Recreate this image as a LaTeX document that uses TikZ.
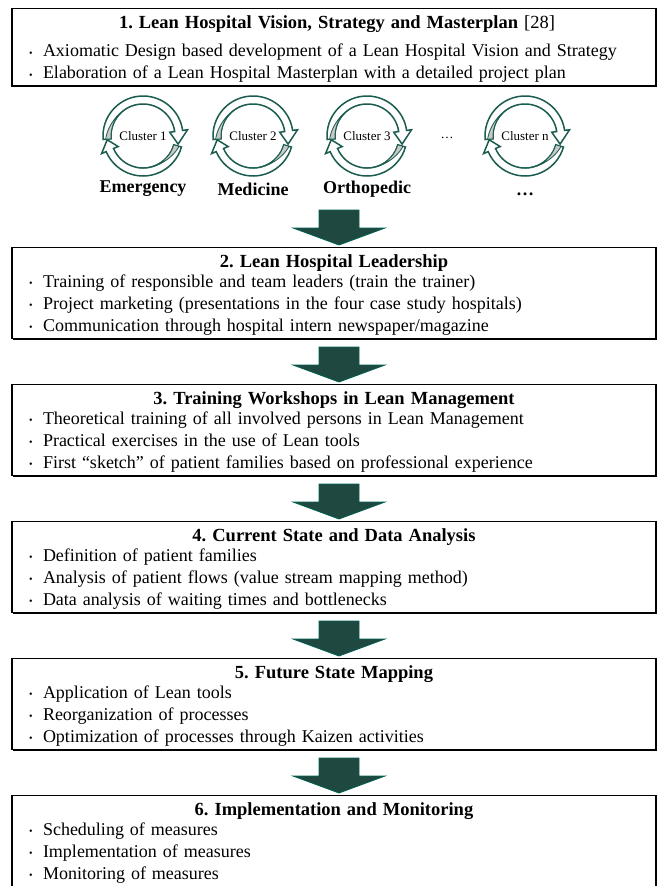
\documentclass[tikz,border=0pt]{standalone}
\usepackage{fontspec}
\setmainfont{Liberation Serif}
\usetikzlibrary{positioning, calc, shadows}

\definecolor{arrowfill}{RGB}{31,72,64}
\definecolor{arrowedge}{RGB}{0,96,80}
\definecolor{cycleedge}{RGB}{26,92,78}
\definecolor{cyclegray}{RGB}{200,200,200}

\newcommand{\phasetitle}[2][-3.3pt]{{\centering\fontsize{18.5}{23}\selectfont\bfseries\strut #2\par}\vspace{#1}}
\newcommand{\bitem}[1]{\par\makebox[23pt][l]{\hspace{9pt}\raisebox{0.5pt}{\fontsize{10}{10}\selectfont\textbullet}}#1\strut}

\tikzset{
  phase/.style={draw, fill=white, line width=1.3pt, rectangle, anchor=north,
    text width=628pt, inner xsep=8pt, inner ysep=3.5pt, align=left,
    execute at end node={\par\vspace{-3pt}},
    drop shadow={shadow xshift=0.8pt, shadow yshift=-1.2pt, fill=black, opacity=1}},
  cluster/.style={font=\fontsize{13}{13}\selectfont, inner sep=0pt},
  dept/.style={font=\fontsize{18}{18}\selectfont\bfseries, inner sep=0pt},
  pics/flowarrow/.style={code={
    \filldraw[fill=arrowfill, draw=arrowedge, line width=0.8pt]
      (0,0) -- (46,17) -- (20,17) -- (20,35) -- (-20,35) -- (-20,17) -- (-46,17) -- cycle;
  }},
  pics/cycle/.style={code={
    % lower arc, arrow pointing up on the left
    \filldraw[fill=white, draw=cycleedge, line width=1.5pt]
      (-16:40) arc[start angle=-16, end angle=-157, radius=40] -- (-157:45) -- (-174:36)
      -- (-157:27) -- (-157:32) arc[start angle=-157, end angle=-16, radius=32] -- cycle;
    \filldraw[fill=cyclegray, draw=cycleedge, line width=0.8pt]
      (-16:32) -- (-16:37.5) .. controls (-40:37.5) and (-75:36) .. (-100:32)
      arc[start angle=-100, end angle=-16, radius=32] -- cycle;
    % upper arc, arrow pointing down on the right
    \filldraw[fill=white, draw=cycleedge, line width=1.5pt]
      (185:40) arc[start angle=185, end angle=8, radius=40] -- (8:45) -- (-13:36)
      -- (8:27) -- (8:32) arc[start angle=8, end angle=185, radius=32] -- cycle;
    \filldraw[fill=cyclegray, draw=cycleedge, line width=0.8pt]
      (185:32) -- (185:37.5) .. controls (160:37.5) and (125:36) .. (100:32)
      arc[start angle=100, end angle=185, radius=32] -- cycle;
  }},
}

\begin{document}
\frenchspacing
\begin{tikzpicture}[x=1pt, y=1pt, font=\fontsize{18}{22}\selectfont]
  \useasboundingbox (0,0) rectangle (664,-886);

  \node[phase, execute at end node={}] (p1) at (334,-8) {\vspace{6.5pt}
    \phasetitle[-1.3pt]{1. Lean Hospital Vision, Strategy and Masterplan \textmd{[28]}}
    \bitem{Axiomatic Design based development of a Lean Hospital Vision and Strategy}
    \bitem{Elaboration of a Lean Hospital Masterplan with a detailed project plan}};

  % clusters
  \node[cluster] (c1) at (143,-136) {Cluster 1};
  \node[cluster, on grid, right=110pt of c1] (c2) {Cluster 2};
  \node[cluster, on grid, right=114pt of c2] (c3) {Cluster 3};
  \node[cluster, on grid, right=158pt of c3] (cn) {Cluster n};
  \node[cluster, on grid, right=80pt of c3, yshift=-2pt] (cdots) {\dots};
  \foreach \c in {c1, c2, c3, cn}
    \pic at (\c) {cycle};
  \node[dept, on grid, below=53pt of c1] (emergency) {Emergency};
  \node[dept, on grid, below=53pt of c2] (medicine) {Medicine};
  \node[dept, on grid, below=53pt of c3] (ortho) {Orthopedic};
  \node[dept, on grid, below=58pt of cn] (others) {\dots};

  \node[phase] (p2) at (334,-247) {\phasetitle{2. Lean Hospital Leadership}
    \bitem{Training of responsible and team leaders (train the trainer)}
    \bitem{Project marketing (presentations in the four case study hospitals)}
    \bitem{Communication through hospital intern newspaper/magazine}};

  \node[phase, below=45pt of p2] (p3) {\phasetitle{3. Training Workshops in Lean Management}
    \bitem{Theoretical training of all involved persons in Lean Management}
    \bitem{Practical exercises in the use of Lean tools}
    \bitem{First ``sketch'' of patient families based on professional experience}};

  \node[phase, below=45pt of p3] (p4) {\phasetitle{4. Current State and Data Analysis}
    \bitem{Definition of patient families}
    \bitem{Analysis of patient flows (value stream mapping method)}
    \bitem{Data analysis of waiting times and bottlenecks}};

  \node[phase, below=45pt of p4] (p5) {\phasetitle{5. Future State Mapping}
    \bitem{Application of Lean tools}
    \bitem{Reorganization of processes}
    \bitem{Optimization of processes through Kaizen activities}};

  \node[phase, below=45pt of p5] (p6) {\phasetitle{6. Implementation and Monitoring}
    \bitem{Scheduling of measures}
    \bitem{Implementation of measures}
    \bitem{Monitoring of measures}};

  % arrows between phases
  \foreach \p in {p2, p3, p4, p5, p6}
    \pic at ($(\p.north)+(5,2)$) {flowarrow};
\end{tikzpicture}
\end{document}
